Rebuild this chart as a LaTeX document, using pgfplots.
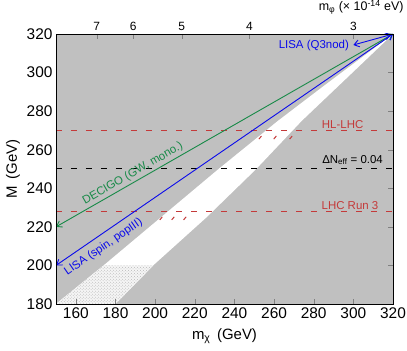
\documentclass[border=0pt]{standalone}
\usepackage{fontspec}
\setmainfont{Liberation Sans}
\usepackage{pgfplots}
\pgfplotsset{compat=1.18}
\usetikzlibrary{arrows.meta, patterns}

\definecolor{bandgray}{RGB}{192,192,192}
\definecolor{lhcred}{RGB}{196,58,58}
\definecolor{decigo}{RGB}{24,138,72}
\definecolor{lisablue}{RGB}{10,10,235}

\begin{document}
\begin{tikzpicture}
\begin{axis}[
  scale only axis, width=337bp, height=270bp,
  xmin=150, xmax=320, ymin=180, ymax=320,
  xtick={160,180,...,320}, ytick={180,200,...,320},
  xtick pos=left, ytick pos=right, yticklabel pos=left,
  tick align=inside, major tick length=5bp,
  axis background/.style={fill=bandgray},
  axis on top,
  tick label style={font=\fontsize{15.5}{17}\selectfont},
  /pgf/number format/assume math mode=true,
  xlabel={m\textsubscript{χ}\, (GeV)}, ylabel={M\, (GeV)},
  label style={font=\fontsize{15}{17}\selectfont},
  xlabel style={yshift=-3bp},
]
\coordinate (bl) at (rel axis cs:0,0);
\coordinate (tr) at (rel axis cs:1,1);

% allowed band
\addplot[draw=none, fill=white] coordinates {
  (150,180) (174,200) (203,225) (232,250) (262,275) (285,293) (320,320)
  (296,296.5) (274,275) (251,250) (226,225) (199,200) (180,180)};
% hatched part below M = 200
\addplot[draw=none, fill=gray!8] coordinates {
  (150,180) (174,200) (199,200) (180,180)};
\addplot[draw=none, pattern=crosshatch dots, pattern color=gray!55] coordinates {
  (150,180) (174,200) (199,200) (180,180)};

% collider and Neff lines
\addplot[lhcred, line width=1.1bp, dash pattern=on 6bp off 9bp] coordinates {(150,270) (320,270)};
\addplot[black, line width=1bp, dash pattern=on 6bp off 9bp] coordinates {(150,250) (320,250)};
\addplot[lhcred, line width=1.1bp, dash pattern=on 6bp off 9bp] coordinates {(150,228) (320,228)};
\addplot[only marks, lhcred, mark=|, mark size=2bp, mark options={rotate=-40, line width=1bp}]
  coordinates {(253,266.3) (260.5,266.3) (268.5,266.3)};
\addplot[only marks, lhcred, mark=|, mark size=2bp, mark options={rotate=-40, line width=1bp}]
  coordinates {(203,224.4) (209,224.4) (215,224.4)};

% GW reach
\addplot[decigo, line width=0.9bp,
  {Straight Barb[length=5bp,width=7bp]}-{Straight Barb[length=5bp,width=7bp]}]
  coordinates {(150,220) (320,320)};
\addplot[lisablue, line width=0.9bp,
  {Straight Barb[length=5bp,width=7bp]}-{Straight Barb[length=5bp,width=7bp]}]
  coordinates {(150,200) (320,320)};
\addplot[lisablue, line width=0.9bp,
  {Straight Barb[length=5bp,width=7bp]}-{Straight Barb[length=5bp,width=7bp]}]
  coordinates {(300,314.3) (319,319.7)};

\node[font=\fontsize{11.5}{13}\selectfont, text=decigo, rotate=29.8]
  at (axis cs:188.8,247.6) {DECIGO (GW, mono.)};
\node[font=\fontsize{11.5}{13}\selectfont, text=lisablue, rotate=34.5]
  at (axis cs:174,209.5) {LISA (spin, popIII)};
\node[font=\fontsize{11.5}{13}\selectfont, text=lisablue, anchor=east]
  at (axis cs:299.5,314) {LISA (Q3nod)};
\node[font=\fontsize{11.5}{13}\selectfont, text=lhcred] at (axis cs:294.6,272.8) {HL-LHC};
\node[font=\fontsize{11.5}{13}\selectfont] at (axis cs:299.6,254.6) {ΔN\textsubscript{eff} = 0.04};
\node[font=\fontsize{11.5}{13}\selectfont, text=lhcred] at (axis cs:298.3,231.3) {LHC Run 3};
\end{axis}

% top axis: scalar mass
\begin{axis}[
  scale only axis, width=337bp, height=270bp,
  xmin=150, xmax=320, ymin=180, ymax=320,
  axis x line*=top, axis y line=none,
  xtick={170.5,189,213.4,247.6,300}, xticklabels={7,6,5,4,3},
  tick align=inside, major tick length=5bp,
  tick label style={font=\fontsize{12}{13}\selectfont},
  /pgf/number format/assume math mode=true,
  xlabel={m\textsubscript{φ} (× 10\textsuperscript{-14} eV)},
  xlabel style={at={(rel axis cs:1,1)}, anchor=south east, xshift=14bp, yshift=16bp,
    font=\fontsize{12.5}{14}\selectfont},
]
\end{axis}

\pgfresetboundingbox
\path ([shift={(-56bp,-47bp)}]bl) rectangle ([shift={(14bp,34bp)}]tr);
\end{tikzpicture}
\end{document}
